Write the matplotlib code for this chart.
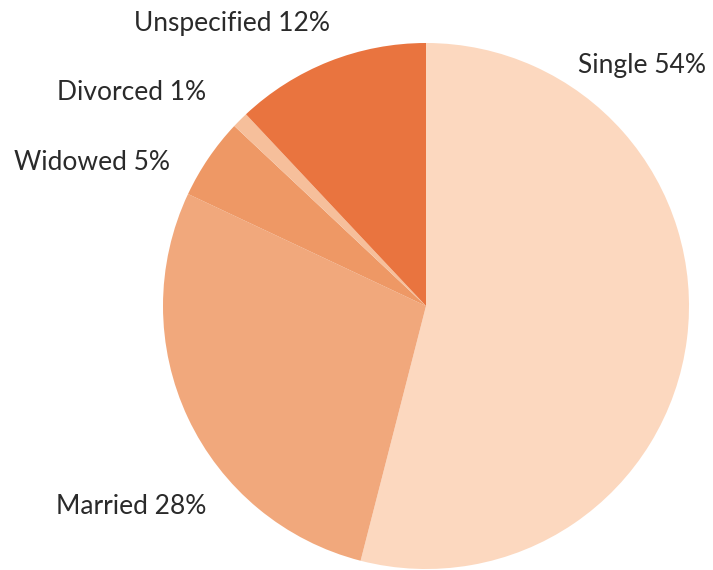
import matplotlib
matplotlib.use("Agg")
import matplotlib.pyplot as plt

categories = ["Single", "Married", "Widowed", "Divorced", "Unspecified"]
values = [54, 28, 5, 1, 12]
colors = ["#fcd8bf", "#f1a87c", "#ee9865", "#f6bf9b", "#e9743f"]

label_pos = [(642, 505), (131, 63), (92, 407), (132, 478), (232, 546)]

fig = plt.figure(figsize=(7.13, 5.70), dpi=100)
ax = fig.add_axes([0, 0, 1, 1])

wedges, texts = ax.pie(values, colors=colors, startangle=90, counterclock=False,
                       center=(426, 264), radius=263,
                       labels=[f"{c} {v}%" for c, v in zip(categories, values)],
                       wedgeprops=dict(linewidth=0), frame=True)
ax.set_xlim(0, 713)
ax.set_ylim(0, 570)
ax.set_aspect("equal")
ax.axis("off")
for t, (x, y) in zip(texts, label_pos):
    t.set_position((x, y))
    t.set_ha("center")
    t.set_va("center")
    t.set_fontsize(19)
    t.set_family("Lato")
    t.set_color("#2a2a2a")

fig.savefig("out.png", dpi=100)
